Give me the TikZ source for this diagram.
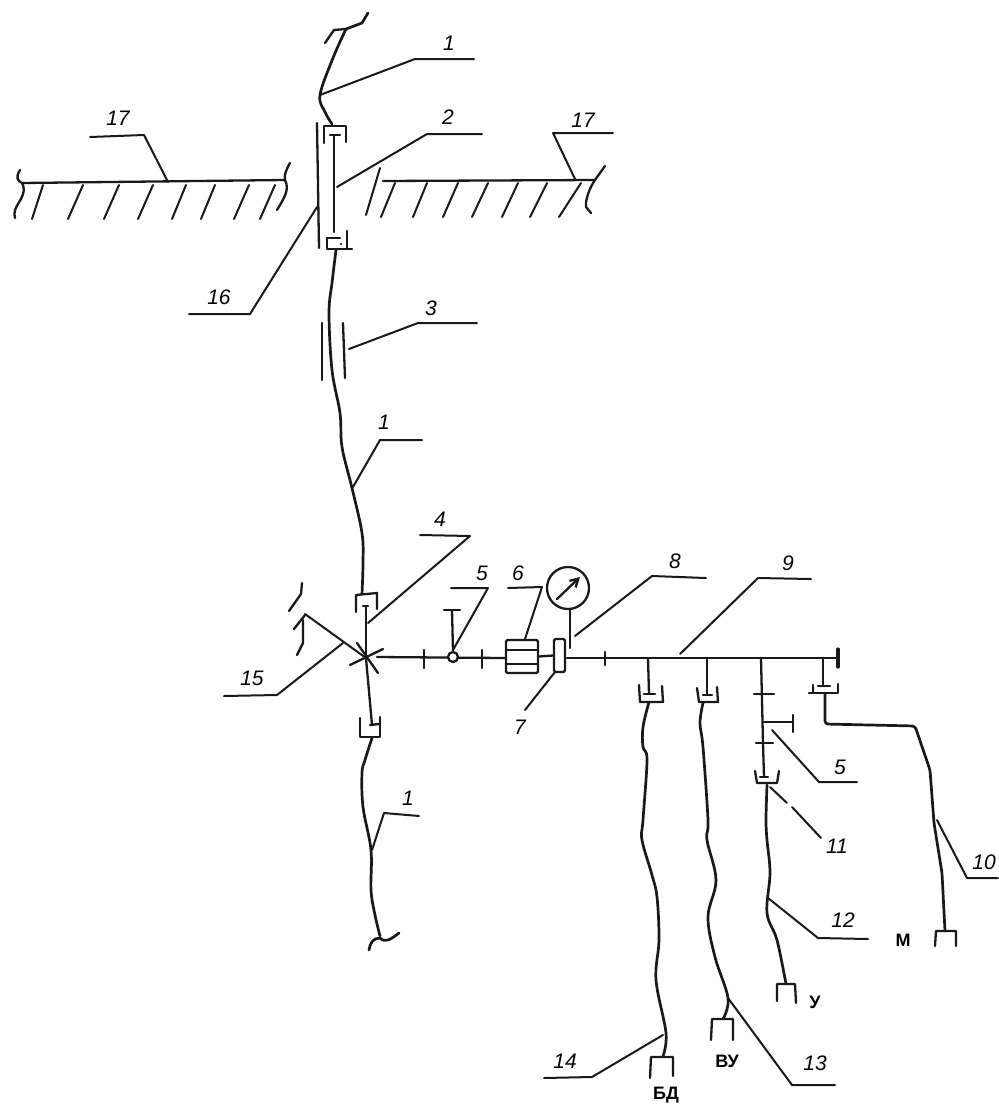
\documentclass[tikz,border=0pt]{standalone}
\usepackage{fontspec}
\setmainfont{Liberation Sans}
\usetikzlibrary{arrows.meta}
\tikzset{
  ln/.style={line width=2.3pt,line cap=round,line join=round,draw=black!90},
  cable/.style={ln,line width=2.7pt},
  lead/.style={ln,line width=2pt},
  hatch/.style={ln,line width=2pt},
  num/.style={font=\fontsize{21}{21}\selectfont\itshape,inner sep=0pt},
  cyr/.style={font=\fontsize{18}{18}\selectfont\bfseries,inner sep=0pt},
  devbox/.style={ln,rounded corners=1.5pt},
}
\newcommand{\curve}[1]{\draw[cable] plot[smooth,tension=0.6] coordinates {#1};}
\begin{document}
\begin{tikzpicture}[x=1pt,y=-1pt]
\useasboundingbox (0,0) rectangle (999,1104);
% named anchors
\coordinate (cTop) at (320,95);
\coordinate (e1a) at (415,59); \coordinate (f1a) at (474,59);
\coordinate (rod) at (337,187);
\coordinate (e2) at (427,134); \coordinate (f2) at (482,134);
\coordinate (gl) at (168,182); \coordinate (e17a) at (144,135); \coordinate (f17a) at (90,137);
\coordinate (gr) at (575,179); \coordinate (e17b) at (553,133); \coordinate (f17b) at (613,133);
\coordinate (tube) at (317,207); \coordinate (e16) at (250,314); \coordinate (f16) at (189,314);
\coordinate (t3) at (349,349); \coordinate (e3) at (418,323); \coordinate (f3) at (477,323);
\coordinate (c1b) at (353,487); \coordinate (e1b) at (380,440); \coordinate (f1b) at (422,440);
\coordinate (c1c) at (372,850); \coordinate (e1c) at (384,813); \coordinate (f1c) at (419,816);
\coordinate (r4) at (368,623); \coordinate (e4) at (470,536); \coordinate (f4) at (420,535);
\coordinate (j) at (366,658); \coordinate (br) at (305,614);
\coordinate (m15) at (343,643); \coordinate (e15) at (277,695); \coordinate (f15) at (224,696);
\coordinate (v5) at (453,650); \coordinate (e5a) at (488,588); \coordinate (f5a) at (451,588);
\coordinate (b6) at (525,639); \coordinate (e6) at (542,587); \coordinate (f6) at (508,588);
\coordinate (b7) at (555,672); \coordinate (f7) at (525,710);
\coordinate (g8) at (575,636); \coordinate (e8) at (652,576); \coordinate (f8) at (706,578);
\coordinate (s9) at (680,654); \coordinate (e9) at (758,578); \coordinate (f9) at (811,579);
\coordinate (s5) at (772,730); \coordinate (e5b) at (819,782); \coordinate (f5b) at (857,782);
\coordinate (c11) at (770,787); \coordinate (g11a) at (787,803); \coordinate (g11b) at (792,807); \coordinate (f11) at (821,838);
\coordinate (c10) at (937,820); \coordinate (e10) at (967,878); \coordinate (f10) at (998,878);
\coordinate (c12) at (768,898); \coordinate (e12) at (818,938); \coordinate (f12) at (868,939);
\coordinate (c13) at (728,998); \coordinate (e13) at (792,1085); \coordinate (f13) at (835,1085);
\coordinate (c14) at (663,1035); \coordinate (e14) at (592,1077); \coordinate (f14) at (544,1078);

% ground left
\draw[ln] (22,183) -- (285,180);
\draw[ln] (20,170) .. controls (15,178) and (18,181) .. (22,183) .. controls (25,188) and (24,193) .. (21,199) .. controls (16,207) and (13,212) .. (15,218);
\draw[ln] (290,163) .. controls (286,170) and (284,175) .. (285,180) .. controls (290,190) and (284,198) .. (277,210);
\foreach \a/\b in {43/32,83/68,119/104,153/138,186/172,215/201,249/234,275/260}
  \draw[hatch] (\a,185) -- (\b,219);
% ground right
\draw[ln] (383,181) -- (595,180);
\draw[hatch] (380,168) -- (366,215);
\draw[ln] (605,166) -- (595,180) .. controls (590,187) and (585,200) .. (586,207) -- (591,213);
\foreach \a/\b in {395/381,427/413,458/443,488/472,518/502,547/530,581/559}
  \draw[hatch] (\a,183) -- (\b,217);

% upper cable and hook
\draw[cable] (368,13) -- (362,23) -- (346,29);
\draw[ln] (346,29) -- (334,30) -- (325,43);
\curve{(346,29) (333,58) (320,95) (325,112) (332,124)}
% upper gland
\draw[ln] (324,143) -- (324,126) -- (346,126) -- (346,142);
\draw[ln] (330,135) -- (340,135);
\draw[ln] (334,135) -- (334,232);
\draw[ln] (327,238) -- (327,249) -- (352,249);
\draw[ln] (327,238) -- (340,238) (347,231) -- (347,249);
\fill (341,244) circle (1.1);
\draw[ln] (317,123) -- (319,248);
% cable to junction
\curve{(336,250) (332,283) (329,313) (332,370) (340,413) (342,447) (352,488) (362,533) (363,563) (362,594)}
\draw[ln] (322,323) -- (322,380);
\draw[ln] (343,323) -- (345,378);
% upper-junction gland
\draw[ln] (356,612) -- (356,595) -- (377,593) -- (377,609);
\draw[ln] (363,606) -- (368,606);
\draw[ln] (366,606) -- (j);
% crossing
\draw[ln] (357,643) -- (378,673);
\draw[ln] (350,665) -- (383,649);
\draw[lead] (br) -- (j);
% break mark
\draw[ln] (302,583) -- (301,594) -- (289,611);
\draw[ln] (305,615) -- (294,629);
\draw[ln] (303,620) -- (303,643) -- (297,655);
% lower gland
\draw[ln] (j) -- (372,725);
\draw[ln] (360,718) -- (360,737) -- (380,737) -- (380,717);
\draw[ln] (370,725) -- (379,724);
\curve{(372,738) (365,760) (362,773) (363,807) (371,850) (371,890) (375,915) (380,936)}
\draw[cable] (369,950) .. controls (370,943) and (373,938) .. (380,938) .. controls (385,943) and (390,940) .. (399,933);

% main shaft
\draw[ln] (377,657) -- (505,658);
\draw[ln] (424,650) -- (424,668) (482,650) -- (482,668);
\node[draw,ln,circle,fill=white,minimum size=10pt,inner sep=0pt] (valve) at (453,657) {};
\draw[ln] (valve.north) -- (452,610);
\draw[ln] (444,610) -- (460,610);
% box 6
\node[devbox,draw,minimum width=32pt,minimum height=33pt,inner sep=0pt] (boxsix) at (522,656.5) {};
\draw[ln] (506,650) -- (538,650) (506,664) -- (538,664);
% box 7
\node[devbox,draw,minimum width=11pt,minimum height=33pt,inner sep=0pt] (boxseven) at (559.5,655.5) {};
\draw[ln] (boxsix.east) -- (boxseven.west);
% gauge
\node[ln,draw,circle,minimum size=42pt,inner sep=0pt] (gauge) at (568,588) {};
\draw[ln,-{Straight Barb[length=8pt,width=9pt]}] (557,599) -- (580,577);
\draw[ln] (gauge.south) ++(2,0) -- (570,648);
% bus
\draw[ln] (567,658) -- (838,658);
\draw[ln] (605,652) -- (605,665);
\draw[ln,line width=3.2pt] (838,649) -- (838,667);
% branch a
\draw[ln] (648,658) -- (649,694);
\draw[ln] (644,694) -- (655,694);
\draw[ln] (639,685) -- (640,702) -- (663,702) -- (662,686);
\curve{(649,702) (643,727) (643,747) (647,760) (643,820) (642,840) (652,875) (657,897) (659,940) (656,980) (666,1033) (663,1056)}
\draw[ln] (650,1078) -- (651,1057) -- (673,1057) -- (673,1076);
% branch b
\draw[ln] (707,658) -- (707,695);
\draw[ln] (703,695) -- (712,695);
\draw[ln] (697,688) -- (699,702) -- (718,702) -- (717,687);
\curve{(703,703) (700,723) (703,747) (708,820) (707,840) (716,880) (708,917) (715,957) (728,998) (723,1019)}
\draw[ln] (711,1040) -- (712,1019) -- (733,1019) -- (733,1040);
% branch c
\draw[ln] (761,658) -- (763,743) -- (764,777);
\draw[ln] (754,694) -- (774,694);
\draw[ln] (763,722) -- (793,722);
\draw[ln] (793,715) -- (793,732);
\draw[ln] (756,743) -- (773,743);
\draw[ln] (755,771) -- (757,783) -- (777,783) -- (779,771);
\draw[ln] (760,777) -- (768,777);
\curve{(767,785) (766,820) (767,840) (770,873) (767,913) (777,940) (786,984)}
\draw[ln] (777,1001) -- (777,984) -- (795,984) -- (796,1003);
% branch d
\draw[ln] (823,658) -- (823,686);
\draw[ln] (818,686) -- (830,686);
\draw[ln] (813,685) -- (813,693);
\draw[ln] (809,693) -- (838,693) -- (838,684);
\draw[cable,rounded corners=3pt] (825,693) -- (825,724) -- (915,726) -- (930,770) -- (934,823) -- (942,873) -- (945,931);
\draw[ln] (935,946) -- (936,931) -- (956,931) -- (956,946);

% leaders
\draw[lead] (cTop) -- (e1a) -- (f1a);
\draw[lead] (rod) -- (e2) -- (f2);
\draw[lead] (gl) -- (e17a) -- (f17a);
\draw[lead] (gr) -- (e17b) -- (f17b);
\draw[lead] (tube) -- (e16) -- (f16);
\draw[lead] (t3) -- (e3) -- (f3);
\draw[lead] (c1b) -- (e1b) -- (f1b);
\draw[lead] (c1c) -- (e1c) -- (f1c);
\draw[lead] (r4) -- (e4) -- (f4);
\draw[lead] (m15) -- (e15) -- (f15);
\draw[lead] (v5) -- (e5a) -- (f5a);
\draw[lead] (b6) -- (e6) -- (f6);
\draw[lead] (b7) -- (f7);
\draw[lead] (g8) -- (e8) -- (f8);
\draw[lead] (s9) -- (e9) -- (f9);
\draw[lead] (s5) -- (e5b) -- (f5b);
\draw[lead] (c11) -- (g11a) (g11b) -- (f11);
\draw[lead] (c10) -- (e10) -- (f10);
\draw[lead] (c12) -- (e12) -- (f12);
\draw[lead] (c13) -- (e13) -- (f13);
\draw[lead] (c14) -- (e14) -- (f14);

% labels
\node[num] (l1a) at (449,43) {1};
\node[num] (l2) at (448,117) {2};
\node[num] (l17a) at (118,118) {17};
\node[num] (l17b) at (583,120) {17};
\node[num] (l16) at (219,297) {16};
\node[num] (l3) at (431,308) {3};
\node[num] (l1b) at (384,422) {1};
\node[num] (l4) at (440,519) {4};
\node[num] (l5a) at (482,573) {5};
\node[num] (l6) at (518,573) {6};
\node[num] (l7) at (520,727) {7};
\node[num] (l8) at (675,561) {8};
\node[num] (l9) at (788,563) {9};
\node[num] (l15) at (252,678) {15};
\node[num] (l1c) at (408,798) {1};
\node[num] (l5b) at (840,767) {5};
\node[num] (l11) at (837,846) {11};
\node[num] (l10) at (984,862) {10};
\node[num] (l12) at (843,920) {12};
\node[num] (l13) at (815,1063) {13};
\node[num] (l14) at (565,1061) {14};
\node[cyr] (m) at (903,940) {М};
\node[cyr] (u) at (815,1002) {У};
\node[cyr] (vu) at (727,1061) {ВУ};
\node[cyr] (bd) at (666,1095) {БД};
\end{tikzpicture}
\end{document}
